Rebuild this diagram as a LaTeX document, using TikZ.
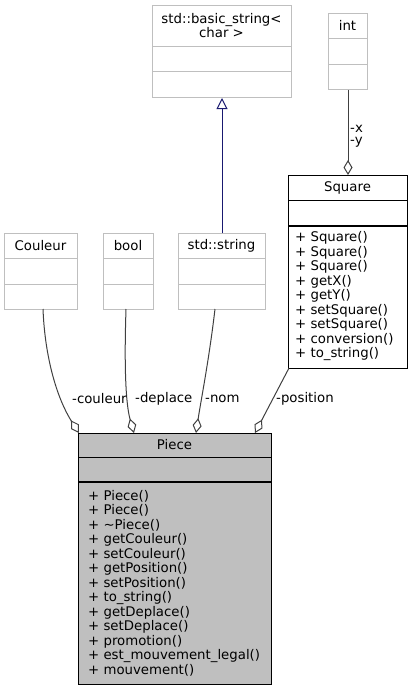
\documentclass[tikz,border=0pt]{standalone}
\usepackage{fontspec}
\setmainfont{DejaVu Sans}
\usetikzlibrary{arrows.meta}

\definecolor{lightframe}{HTML}{BFBFBF}
\definecolor{edgegrey}{HTML}{404040}
\definecolor{inheritblue}{HTML}{191970}
\definecolor{classfill}{HTML}{BFBFBF}

\tikzset{
  every node/.style={font=\fontsize{13.3}{14.5}\selectfont, inner sep=0pt},
  extbox/.style={draw=lightframe, line width=1pt, fill=white, anchor=north west, minimum width=#1},
  mainbox/.style={draw=black, line width=1pt, anchor=north west, minimum width=#1},
  sepline/.style={draw=lightframe, line width=1pt},
  sepmain/.style={draw=black, line width=1pt},
  septhick/.style={draw=black, line width=1.6pt},
  members/.style={anchor=west, align=left},
  rolelabel/.style={anchor=west},
  aggregation/.style={draw=edgegrey, line width=1pt,
    -{Diamond[fill=white, length=15pt, width=9pt, line width=1pt]}},
  inheritance/.style={draw=inheritblue, line width=1pt,
    -{Triangle[open, length=11pt, width=11pt, line width=1pt]}},
}

\begin{document}
\begin{tikzpicture}[x=1pt, y=-1pt]
\useasboundingbox (0,0) rectangle (413,691);

% ---- std::basic_string< char > ----
\node[extbox=139pt, minimum height=92pt] (bstr) at (152,5) {};
\draw[sepline] (152,46) -- (291,46);
\draw[sepline] (152,71) -- (291,71);
\node[align=center] (bstrtitle) at (221.5,25.5) {std::basic\_string<\\char >};

% ---- int ----
\node[extbox=39pt, minimum height=76pt] (int) at (328,13) {};
\draw[sepline] (328,38) -- (367,38);
\draw[sepline] (328,64) -- (367,64);
\node (inttitle) at (347.5,25.5) {int};

% ---- Couleur ----
\node[extbox=73pt, minimum height=76pt] (cou) at (4,233) {};
\draw[sepline] (4,258) -- (77,258);
\draw[sepline] (4,284) -- (77,284);
\node (coutitle) at (40.5,245.5) {Couleur};

% ---- bool ----
\node[extbox=50pt, minimum height=76pt] (bool) at (103,233) {};
\draw[sepline] (103,258) -- (153,258);
\draw[sepline] (103,284) -- (153,284);
\node (booltitle) at (128,245.5) {bool};

% ---- std::string ----
\node[extbox=87pt, minimum height=76pt] (str) at (178,233) {};
\draw[sepline] (178,258) -- (265,258);
\draw[sepline] (178,284) -- (265,284);
\node (strtitle) at (221.5,245.5) {std::string};

% ---- Square ----
\node[mainbox=119pt, minimum height=193pt, fill=white] (sq) at (288,175) {};
\draw[sepmain] (288,200) -- (407,200);
\draw[septhick] (288,226) -- (407,226);
\node (sqtitle) at (347.5,187.5) {Square};
\node[members] (sqmembers) at (295,296.5) {%
+ Square()\\
+ Square()\\
+ Square()\\
+ getX()\\
+ getY()\\
+ setSquare()\\
+ setSquare()\\
+ conversion()\\
+ to\_string()};

% ---- Piece ----
\node[mainbox=193pt, minimum height=251pt, fill=classfill] (piece) at (78,433) {};
\draw[sepmain] (78,457) -- (271,457);
\draw[septhick] (78,482) -- (271,482);
\node (piecetitle) at (174.5,445) {Piece};
\node[members] (piecemembers) at (88,583) {%
+ Piece()\\
+ Piece()\\
+ \textasciitilde Piece()\\
+ getCouleur()\\
+ setCouleur()\\
+ getPosition()\\
+ setPosition()\\
+ to\_string()\\
+ getDeplace()\\
+ setDeplace()\\
+ promotion()\\
+ est\_mouvement\_legal()\\
+ mouvement()};

% ---- attachment points ----
\coordinate (pcou) at (79,433);
\coordinate (pdep) at (134,433);
\coordinate (pnom) at (196,433);
\coordinate (ppos) at (255,433);
\coordinate (sqfoot) at (289,368);

% ---- relations ----
\draw[inheritance] (str.north) -- (bstr.south);
\draw[aggregation] (int.south) -- (sq.north);
\draw[aggregation] (43,309) .. controls (45,360) and (58,400) .. (pcou);
\draw[aggregation] (126,309) .. controls (124,370) and (126,405) .. (pdep);
\draw[aggregation] (215,309) .. controls (209,360) and (201,400) .. (pnom);
\draw[aggregation] (sqfoot) -- (ppos);

% ---- role labels ----
\node[rolelabel] (lxy) at (350,135.5) {\begin{tabular}{@{}l@{}}-x\\[-2.5pt]-y\end{tabular}};
\node[rolelabel] (lcou) at (72,399) {-couleur};
\node[rolelabel] (ldep) at (135,399) {-deplace};
\node[rolelabel] (lnom) at (205,399) {-nom};
\node[rolelabel] (lpos) at (276,399) {-position};
\end{tikzpicture}
\end{document}
